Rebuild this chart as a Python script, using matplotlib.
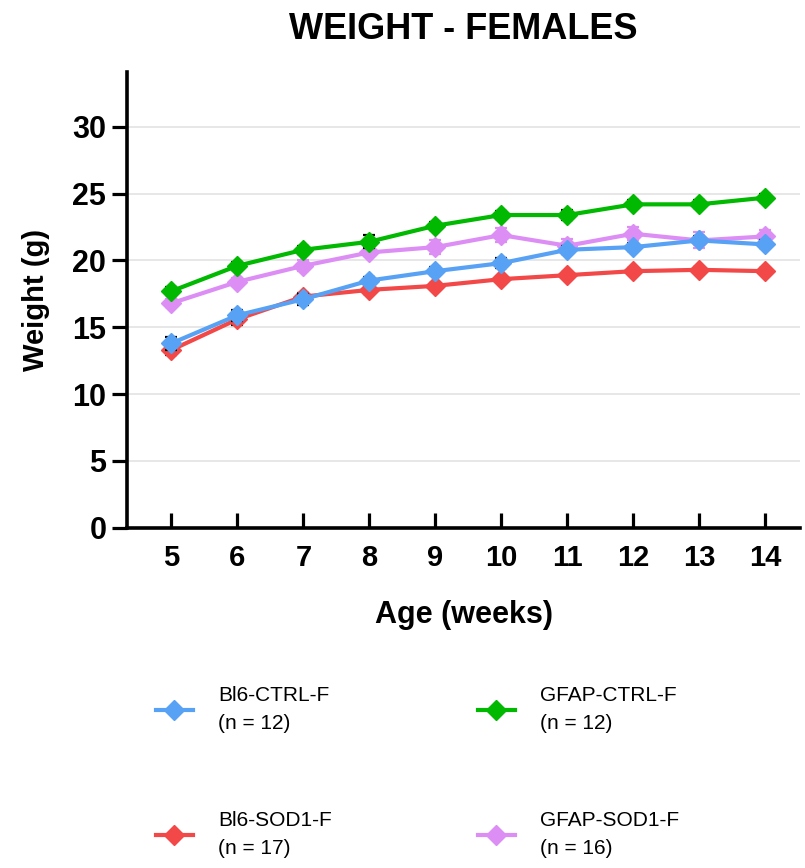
import numpy as np
import matplotlib.pyplot as plt

plt.rcParams['font.family'] = ['Liberation Sans', 'DejaVu Sans']

weeks = [5, 6, 7, 8, 9, 10, 11, 12, 13, 14]

bl6_ctrl = [13.8, 15.9, 17.1, 18.5, 19.2, 19.8, 20.8, 21.0, 21.5, 21.2]
bl6_ctrl_sem = [0.5, 0.4, 0.4, 0.3, 0.3, 0.4, 0.3, 0.3, 0.3, 0.3]
bl6_sod1 = [13.3, 15.6, 17.3, 17.8, 18.1, 18.6, 18.9, 19.2, 19.3, 19.2]
bl6_sod1_sem = [0.4, 0.4, 0.3, 0.3, 0.2, 0.2, 0.2, 0.2, 0.2, 0.2]
gfap_ctrl = [17.7, 19.6, 20.8, 21.4, 22.6, 23.4, 23.4, 24.2, 24.2, 24.7]
gfap_ctrl_sem = [0.3, 0.3, 0.3, 0.5, 0.3, 0.3, 0.4, 0.3, 0.3, 0.3]
gfap_sod1 = [16.8, 18.4, 19.6, 20.6, 21.0, 21.9, 21.1, 22.0, 21.5, 21.8]
gfap_sod1_sem = [0.3, 0.3, 0.4, 0.3, 0.5, 0.5, 0.5, 0.5, 0.6, 0.5]

labels = ['Bl6-CTRL-F\n(n = 12)', 'Bl6-SOD1-F\n(n = 17)',
          'GFAP-CTRL-F\n(n = 12)', 'GFAP-SOD1-F\n(n = 16)']

fig = plt.figure(figsize=(8.05, 8.68), dpi=100)
ax = fig.add_axes([0.158, 0.392, 0.836, 0.525])

series = [
    (bl6_sod1, bl6_sod1_sem, '#f24848', 'black', labels[1], 2),
    (gfap_sod1, gfap_sod1_sem, '#dd8ef5', '#dd8ef5', labels[3], 3),
    (gfap_ctrl, gfap_ctrl_sem, '#00b900', 'black', labels[2], 4),
    (bl6_ctrl, bl6_ctrl_sem, '#58a2f5', 'black', labels[0], 5),
]
handles = {}
for y, err, c, ec, lab, z in series:
    ax.errorbar(weeks, y, yerr=err, fmt='none', ecolor=ec, elinewidth=1.6,
                capsize=4.5, capthick=1.6, zorder=z)
    h, = ax.plot(weeks, y, color=c, lw=3.0, marker='D', markersize=10,
                 zorder=z + 0.5, label=lab)
    handles[lab] = h

ax.set_xlim(4.33, 14.53)
ax.set_ylim(0, 34.1)
ax.set_xticks(weeks)
ax.set_yticks(np.arange(0, 31, 5))
ax.yaxis.grid(True, color='#e3e3e3', lw=1.2)
ax.set_axisbelow(True)
for s in ['top', 'right']:
    ax.spines[s].set_visible(False)
for s in ['left', 'bottom']:
    ax.spines[s].set_linewidth(2.6)
ax.tick_params(axis='x', direction='in', width=2.3, length=11, labelsize=21, pad=12)
ax.tick_params(axis='y', direction='out', width=2.3, length=11, labelsize=22, pad=4)
for t in ax.get_xticklabels() + ax.get_yticklabels():
    t.set_fontweight('bold')

ax.set_xlabel('Age (weeks)', fontsize=22, fontweight='bold', labelpad=20)
ax.set_ylabel('Weight (g)', fontsize=21, fontweight='bold', labelpad=16)
ax.set_title('WEIGHT - FEMALES', fontsize=26, fontweight='bold', pad=24)

order = [labels[0], labels[1], labels[2], labels[3]]
leg = fig.legend([handles[l] for l in order], order, ncol=2, loc='upper left',
                 bbox_to_anchor=(0.183, 0.219), frameon=False, fontsize=15,
                 labelspacing=3.75, handlelength=1.8, handletextpad=1.2,
                 columnspacing=7.0, borderaxespad=0)
for t in leg.get_texts():
    t.set_linespacing(1.6)

fig.savefig('out.png', dpi=100)
